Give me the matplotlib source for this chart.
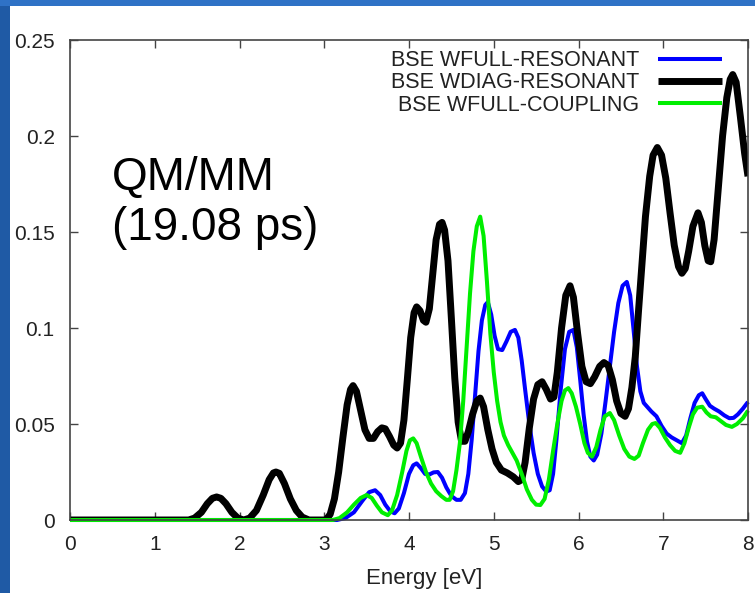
import matplotlib
matplotlib.use("Agg")
import matplotlib.pyplot as plt
from matplotlib.patches import Rectangle

# Absorption spectra: (energy [eV], intensity [arb. units])
full_resonant = [
    (0.00, 0.0), (3.15, 0.0), (3.25, 0.001), (3.35, 0.004), (3.45, 0.010), (3.53, 0.0145),
    (3.60, 0.0155), (3.66, 0.013), (3.72, 0.008), (3.78, 0.0045), (3.83, 0.0035), (3.88, 0.006),
    (3.94, 0.014), (4.00, 0.024), (4.05, 0.0285), (4.09, 0.0295), (4.14, 0.027), (4.19, 0.024),
    (4.24, 0.0237), (4.29, 0.0248), (4.34, 0.025), (4.39, 0.022), (4.44, 0.017), (4.50, 0.0125),
    (4.56, 0.0105), (4.61, 0.0105), (4.66, 0.014), (4.70, 0.024), (4.74, 0.042), (4.78, 0.065),
    (4.82, 0.088), (4.86, 0.104), (4.90, 0.112), (4.93, 0.1135), (4.97, 0.107), (5.01, 0.096),
    (5.05, 0.089), (5.10, 0.0885), (5.15, 0.093), (5.20, 0.098), (5.25, 0.099), (5.29, 0.095),
    (5.33, 0.083), (5.37, 0.068), (5.42, 0.050), (5.47, 0.035), (5.52, 0.024), (5.57, 0.0175),
    (5.62, 0.0148), (5.66, 0.0155), (5.70, 0.024), (5.74, 0.042), (5.79, 0.068), (5.84, 0.089),
    (5.89, 0.098), (5.94, 0.099), (5.98, 0.090), (6.02, 0.073), (6.06, 0.055), (6.10, 0.041),
    (6.14, 0.033), (6.18, 0.031), (6.22, 0.034), (6.27, 0.045), (6.32, 0.062), (6.37, 0.080),
    (6.42, 0.098), (6.47, 0.113), (6.52, 0.122), (6.57, 0.124), (6.61, 0.117), (6.65, 0.099),
    (6.69, 0.080), (6.73, 0.067), (6.77, 0.061), (6.81, 0.059), (6.86, 0.0565), (6.92, 0.054),
    (6.98, 0.049), (7.04, 0.045), (7.10, 0.043), (7.16, 0.0415), (7.22, 0.040), (7.27, 0.044),
    (7.32, 0.053), (7.37, 0.061), (7.42, 0.065), (7.46, 0.066), (7.50, 0.063), (7.55, 0.0595),
    (7.60, 0.058), (7.66, 0.0565), (7.72, 0.0545), (7.78, 0.053), (7.83, 0.0532), (7.88, 0.055),
    (7.94, 0.058), (8.00, 0.0615),
]

diag_resonant = [
    (0.00, 0.0), (1.40, 0.0), (1.47, 0.001), (1.55, 0.004), (1.62, 0.0085), (1.68, 0.0113),
    (1.73, 0.012), (1.78, 0.0113), (1.84, 0.0085), (1.91, 0.004), (1.98, 0.001), (2.05, 0.0),
    (2.12, 0.001), (2.20, 0.005), (2.28, 0.013), (2.35, 0.021), (2.40, 0.0245), (2.43, 0.025),
    (2.47, 0.0243), (2.53, 0.019), (2.60, 0.011), (2.67, 0.005), (2.74, 0.0015), (2.82, 0.0),
    (3.02, 0.0), (3.07, 0.003), (3.12, 0.011), (3.17, 0.025), (3.22, 0.043), (3.27, 0.060),
    (3.31, 0.068), (3.34, 0.070), (3.38, 0.067), (3.43, 0.057), (3.48, 0.047), (3.53, 0.0425),
    (3.58, 0.0425), (3.63, 0.046), (3.68, 0.048), (3.72, 0.0475), (3.77, 0.0435), (3.82, 0.039),
    (3.86, 0.0375), (3.90, 0.040), (3.94, 0.052), (3.98, 0.073), (4.02, 0.095), (4.06, 0.108),
    (4.09, 0.111), (4.13, 0.109), (4.17, 0.104), (4.20, 0.103), (4.24, 0.110), (4.28, 0.128),
    (4.32, 0.146), (4.36, 0.154), (4.39, 0.155), (4.42, 0.151), (4.46, 0.135), (4.50, 0.105),
    (4.54, 0.074), (4.58, 0.051), (4.62, 0.041), (4.66, 0.041), (4.70, 0.046), (4.75, 0.055),
    (4.80, 0.062), (4.84, 0.0635), (4.88, 0.059), (4.93, 0.047), (4.98, 0.037), (5.03, 0.030),
    (5.09, 0.026), (5.16, 0.0245), (5.23, 0.0225), (5.29, 0.020), (5.33, 0.021), (5.37, 0.030),
    (5.42, 0.048), (5.47, 0.063), (5.52, 0.0705), (5.57, 0.072), (5.62, 0.068), (5.67, 0.063),
    (5.71, 0.064), (5.75, 0.077), (5.80, 0.100), (5.85, 0.117), (5.90, 0.122), (5.94, 0.116),
    (5.99, 0.097), (6.04, 0.080), (6.09, 0.072), (6.14, 0.071), (6.19, 0.0745), (6.25, 0.080),
    (6.30, 0.082), (6.35, 0.0805), (6.40, 0.073), (6.45, 0.062), (6.50, 0.0555), (6.55, 0.054),
    (6.59, 0.058), (6.63, 0.069), (6.67, 0.085), (6.71, 0.110), (6.75, 0.134), (6.79, 0.158),
    (6.84, 0.179), (6.88, 0.190), (6.93, 0.194), (6.98, 0.190), (7.03, 0.178), (7.08, 0.160),
    (7.13, 0.143), (7.18, 0.132), (7.22, 0.1285), (7.26, 0.131), (7.30, 0.140), (7.35, 0.153),
    (7.41, 0.160), (7.45, 0.155), (7.49, 0.143), (7.53, 0.135), (7.56, 0.1345), (7.60, 0.146),
    (7.65, 0.173), (7.70, 0.200), (7.75, 0.220), (7.79, 0.2295), (7.82, 0.232), (7.86, 0.228),
    (7.91, 0.210), (7.96, 0.191), (8.00, 0.179),
]

full_coupling = [
    (0.00, 0.0), (3.10, 0.0), (3.18, 0.001), (3.27, 0.004), (3.35, 0.008), (3.43, 0.0115),
    (3.50, 0.013), (3.56, 0.0115), (3.62, 0.0075), (3.68, 0.004), (3.75, 0.0025), (3.80, 0.005),
    (3.86, 0.013), (3.92, 0.025), (3.97, 0.036), (4.01, 0.0415), (4.05, 0.0425), (4.09, 0.040),
    (4.14, 0.033), (4.20, 0.025), (4.26, 0.019), (4.32, 0.015), (4.38, 0.0125), (4.44, 0.0105),
    (4.48, 0.0105), (4.52, 0.015), (4.56, 0.026), (4.60, 0.040), (4.64, 0.062), (4.68, 0.090),
    (4.72, 0.118), (4.76, 0.140), (4.80, 0.153), (4.84, 0.158), (4.88, 0.148), (4.92, 0.124),
    (4.96, 0.097), (5.00, 0.077), (5.04, 0.062), (5.08, 0.051), (5.12, 0.044), (5.17, 0.039),
    (5.22, 0.035), (5.27, 0.031), (5.33, 0.024), (5.39, 0.016), (5.45, 0.0105), (5.50, 0.008),
    (5.55, 0.0078), (5.60, 0.011), (5.65, 0.021), (5.70, 0.036), (5.75, 0.050), (5.80, 0.062),
    (5.84, 0.0675), (5.88, 0.0687), (5.92, 0.066), (5.97, 0.059), (6.02, 0.050), (6.07, 0.040),
    (6.11, 0.035), (6.16, 0.033), (6.21, 0.038), (6.26, 0.047), (6.31, 0.054), (6.37, 0.0557),
    (6.42, 0.052), (6.48, 0.044), (6.54, 0.037), (6.60, 0.033), (6.66, 0.0318), (6.71, 0.0335),
    (6.76, 0.040), (6.82, 0.047), (6.87, 0.050), (6.91, 0.0505), (6.96, 0.048), (7.02, 0.043),
    (7.08, 0.039), (7.14, 0.036), (7.20, 0.035), (7.25, 0.040), (7.30, 0.048), (7.35, 0.055),
    (7.40, 0.0585), (7.46, 0.059), (7.51, 0.056), (7.56, 0.054), (7.62, 0.0535), (7.68, 0.0515),
    (7.74, 0.0495), (7.81, 0.0485), (7.87, 0.050), (7.94, 0.053), (8.00, 0.057),
]

series_labels = ["BSE WFULL-RESONANT", "BSE WDIAG-RESONANT", "BSE WFULL-COUPLING"]
series_colors = ["#0000ff", "#000000", "#00ee00"]
x_ticks = [0, 1, 2, 3, 4, 5, 6, 7, 8]
y_ticks = [0, 0.05, 0.1, 0.15, 0.2, 0.25]
y_tick_labels = ["0", "0.05", "0.1", "0.15", "0.2", "0.25"]

plt.rcParams["font.family"] = ["Liberation Sans", "DejaVu Sans"]

W, H = 755, 593
fig = plt.figure(figsize=(W / 100, H / 100), dpi=100, facecolor="white")

# slide background strips
fig.patches.append(Rectangle((0, 0), 10 / W, 1, transform=fig.transFigure,
                             facecolor="#1f5aa5", edgecolor="none", zorder=0))
fig.patches.append(Rectangle((0, 1 - 6 / H), 1, 6 / H, transform=fig.transFigure,
                             facecolor="#2f72c6", edgecolor="none", zorder=0))

ax = fig.add_axes([70 / W, 1 - 520 / H, (748 - 70) / W, (520 - 40) / H])

widths = [2.9, 5.0, 2.9]
clipping = [False, True, False]
for data, label, color, lw, clip in zip([full_resonant, diag_resonant, full_coupling],
                                        series_labels, series_colors, widths, clipping):
    xs = [p[0] for p in data]
    ys = [p[1] for p in data]
    ax.plot(xs, ys, color=color, lw=lw, label=label, solid_joinstyle="round",
            solid_capstyle="butt", clip_on=clip)

ax.set_xlim(0, 8)
ax.set_ylim(0, 0.25)
ax.set_xticks(x_ticks)
ax.set_xticklabels([str(t) for t in x_ticks])
ax.set_yticks(y_ticks)
ax.set_yticklabels(y_tick_labels)
ax.tick_params(direction="in", length=6, width=1.0, color="#444444",
               top=True, right=True, labelsize=15, pad=11, labelcolor="#222222")
for s in ax.spines.values():
    s.set_color("#444444")
    s.set_linewidth(1.2)

leg = ax.legend(loc="upper right", bbox_to_anchor=(0.962, 0.979), frameon=False,
                markerfirst=False, fontsize=15.5, handlelength=3.0, handletextpad=0.85,
                labelspacing=0.06, borderpad=0, borderaxespad=0)
for t in leg.get_texts():
    t.set_color("#222222")

fig.text(112 / W, 1 - 190 / H, "QM/MM", fontsize=33, ha="left", va="baseline")
fig.text(112 / W, 1 - 240 / H, "(19.08 ps)", fontsize=33, ha="left", va="baseline")
fig.text(424 / W, 1 - 584 / H, "Energy [eV]", fontsize=16, ha="center", va="baseline",
         color="#222222")

fig.savefig("out.png", dpi=100, facecolor="white")
